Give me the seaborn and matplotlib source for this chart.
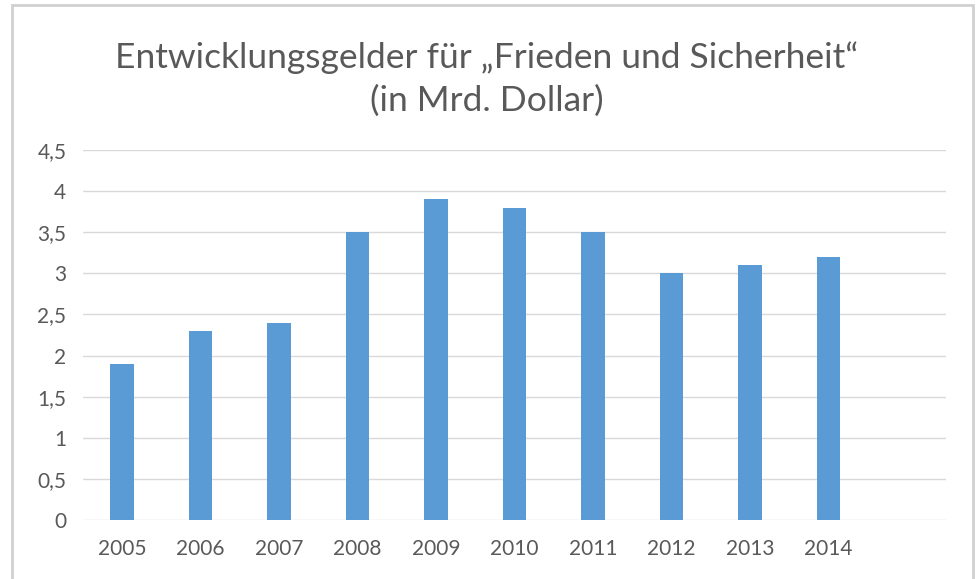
import matplotlib
matplotlib.use("Agg")
import matplotlib.pyplot as plt
import matplotlib.ticker as mticker
from matplotlib.patches import Rectangle
import seaborn as sns
import pandas as pd

years = ["2005", "2006", "2007", "2008", "2009", "2010", "2011", "2012", "2013", "2014"]
values = [1.9, 2.3, 2.4, 3.5, 3.9, 3.8, 3.5, 3.0, 3.1, 3.2]
title = "Entwicklungsgelder für \u201eFrieden und Sicherheit\u201c\n(in Mrd. Dollar)"

df = pd.DataFrame({"year": years, "value": values})

sns.set_theme(style="white")
plt.rcParams['font.family'] = ['Lato', 'DejaVu Sans']

W, H = 979, 579
fig = plt.figure(figsize=(W / 100, H / 100), dpi=100)
ax = fig.add_axes([83 / W, (H - 520) / H, (946 - 83) / W, (520 - 150) / H])

sns.barplot(data=df, x="year", y="value", color="#5B9BD5", width=0.3,
            saturation=1, linewidth=0, ax=ax, zorder=3)

ax.set_xlim(-0.5, 10.5)
ax.set_ylim(0, 4.5)
ax.yaxis.set_major_locator(mticker.MultipleLocator(0.5))
ax.yaxis.set_major_formatter(mticker.FuncFormatter(
    lambda v, _: f"{v:g}".replace(".", ",")))
ax.grid(axis="y", color="#D9D9D9", linewidth=1, zorder=0)
ax.set_xlabel("")
ax.set_ylabel("")
for s in ax.spines.values():
    s.set_visible(False)
ax.tick_params(axis="both", length=0, labelsize=15, colors="#595959")
ax.tick_params(axis="x", pad=14)
ax.tick_params(axis="y", pad=12)

fig.text(487 / W, 1 - 79 / H, title, ha="center", va="center",
         fontsize=25.5, color="#595959", linespacing=1.4)

fig.patches.append(Rectangle((12 / W, -0.1), (973 - 12) / W, 1.1 - 5 / H,
                             transform=fig.transFigure, fill=False,
                             edgecolor="#D0D0D0", linewidth=2))

fig.savefig("out.png", dpi=100)
